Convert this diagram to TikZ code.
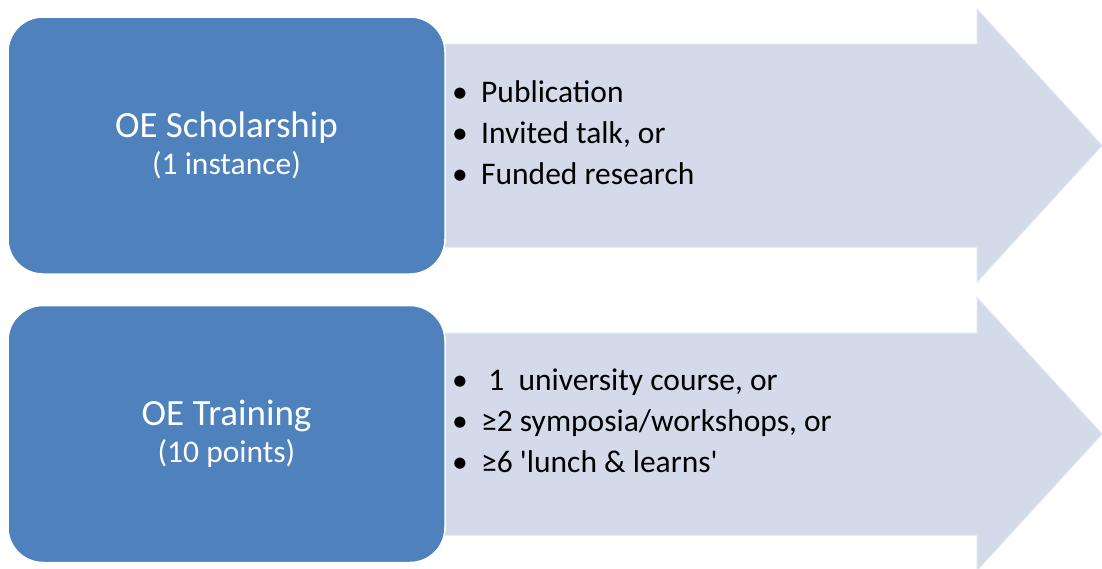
\documentclass[tikz,border=0pt]{standalone}
\usepackage{fontspec}
\setmainfont{Carlito}
\newfontfamily\carlito{Carlito}
\usetikzlibrary{positioning}
\definecolor{oeblue}{HTML}{4F81BD}
\definecolor{oepale}{HTML}{D3DAE9}
\tikzset{
    blubox/.style={
    rectangle,rounded corners=35pt,draw=white,line width=1.5pt,fill=oeblue,text=white,
    minimum width=437pt,minimum height=257pt,inner sep=0pt,align=center,
    font=\fontsize{31.5}{37}\selectfont
    },
    bigarrow/.style={draw=oepale!70!white,fill=oepale,line width=1pt},
    item/.style={anchor=base west,inner sep=0pt,font=\carlito\fontsize{31.5}{41}\selectfont}
}
\newcommand{\itm}{\makebox[29pt][l]{\textbullet}}

\begin{document}
\begin{tikzpicture}[x=1pt,y=-1pt]
    \useasboundingbox (0,0) rectangle (1102,568);

    % arrows behind the boxes
    \draw[bigarrow] (440,44) -- (977,44) -- (977,9) -- (1102,145.5) -- (977,282) -- (977,247) -- (440,247) -- cycle;
    \draw[bigarrow] (440,333) -- (977,333) -- (977,297.5) -- (1102,434) -- (977,570.5) -- (977,535) -- (440,535) -- cycle;

    \node[blubox] (schol) at (226.5,145.5) {{\fontsize{37}{37}\selectfont OE Scholarship}\\(1 instance)};
    \node[blubox] (train) at (226.5,434) {{\fontsize{37}{37}\selectfont OE Training}\\(10 points)};

    \node[item] (pub) at (452,102) {\itm Publication};
    \node[item] (talk) at (452,143) {\itm Invited talk, or};
    \node[item] (fund) at (452,184) {\itm Funded research};

    \node[item] (course) at (452,390) {\itm\ 1\ \ university course, or};
    \node[item] (sympo) at (452,431) {\itm ≥2 symposia/workshops, or};
    \node[item] (lunch) at (452,472) {\itm ≥6 'lunch \& learns'};
\end{tikzpicture}
\end{document}
